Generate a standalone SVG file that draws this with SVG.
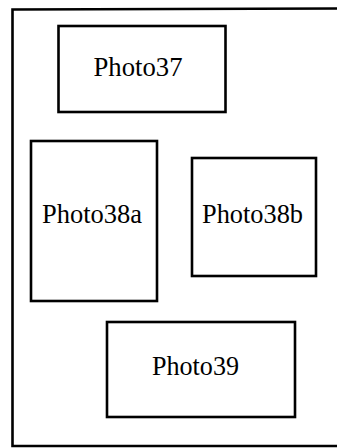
<svg xmlns="http://www.w3.org/2000/svg" width="337" height="448" viewBox="0 0 337 448">
<style>
.box{fill:#fff;stroke:#000;stroke-width:2.6}
.lbl{font-family:"Liberation Serif","Times New Roman",serif;font-size:27.5px;fill:#000;text-anchor:middle}
.frame{fill:none;stroke:#000;stroke-width:2.6}
</style>
<rect width="337" height="448" fill="#fff"/>
<path class="frame" d="M338,8.5 L12.5,9.5 L12.5,446 L338,446"/>
<g id="photo37">
<rect class="box" x="58.5" y="26" width="167" height="86"/>
<text class="lbl" x="138" y="76" textLength="89" lengthAdjust="spacingAndGlyphs">Photo37</text>
</g>
<g id="photo38a">
<rect class="box" x="31" y="141" width="126" height="160"/>
<text class="lbl" x="92" y="223" textLength="100" lengthAdjust="spacingAndGlyphs">Photo38a</text>
</g>
<g id="photo38b">
<rect class="box" x="192" y="158" width="124" height="118"/>
<text class="lbl" x="252.5" y="223" textLength="101" lengthAdjust="spacingAndGlyphs">Photo38b</text>
</g>
<g id="photo39">
<rect class="box" x="107" y="322" width="188" height="95"/>
<text class="lbl" x="195.5" y="375" textLength="87" lengthAdjust="spacingAndGlyphs">Photo39</text>
</g>
<g id="connectors"/>
</svg>
